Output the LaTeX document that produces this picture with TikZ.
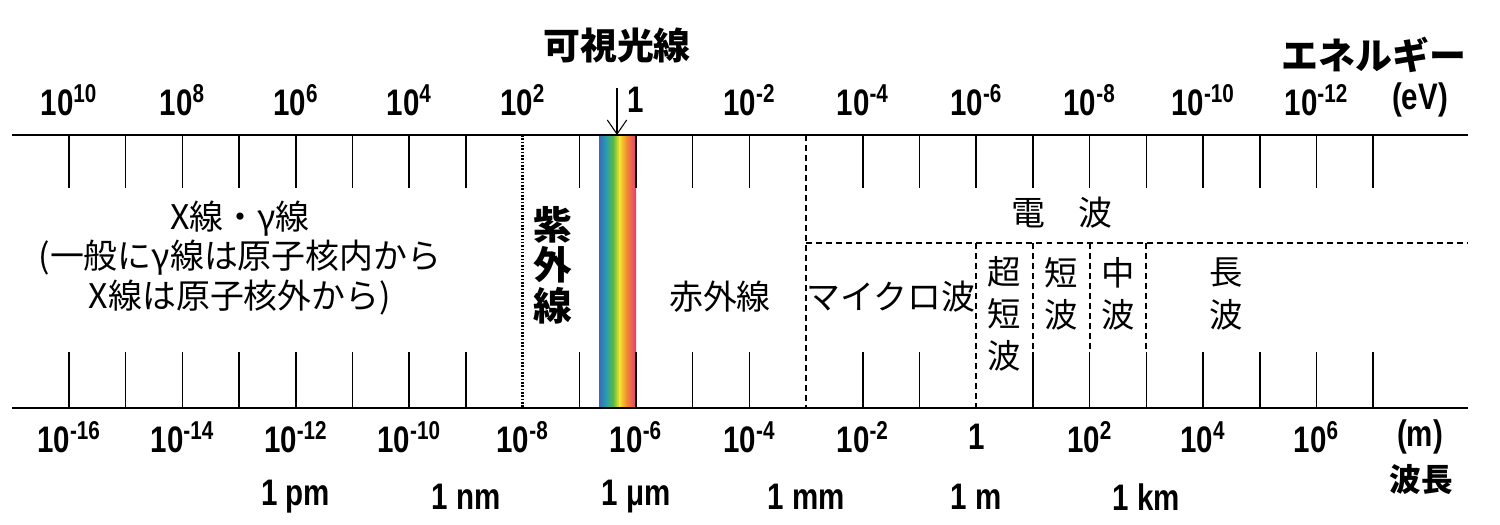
\documentclass[tikz,border=0pt]{standalone}
\usepackage{fontspec}
\setmainfont{Liberation Sans}[FakeStretch=0.8]
\newfontfamily\jp{Noto Sans CJK JP}
\usetikzlibrary{arrows.meta, positioning}

\begin{document}
\begin{tikzpicture}[x=0.2mm, y=-0.2mm,
    every node/.style={inner sep=0pt, outer sep=0pt},
    num/.style={font=\fontsize{21}{23}\selectfont\bfseries},
    band/.style={font=\fontsize{19.3}{22.5}\selectfont\jp, align=center},
    bandv/.style={font=\fontsize{19}{24}\selectfont\jp, align=center},
    title/.style={font=\fontsize{21}{24}\selectfont\jp\bfseries},
    axis/.style={line width=1.4pt},
    tick/.style={line width=0.9pt},
    sep/.style={line width=1.1pt, dash pattern=on 3.4pt off 2.3pt},
    pointer/.style={-{Straight Barb[length=8pt, width=11pt]}, line width=0.6pt}
]

    \useasboundingbox (0,0) rectangle (1500,524);
    \def\colw{56.7}
    \def\xo{69}

    % --- visible spectrum ---
    \shade[left color={rgb,255:red,58;green,104;blue,190}, right color={rgb,255:red,40;green,160;blue,170}] (599,135) rectangle (606.4,408);
    \shade[left color={rgb,255:red,40;green,160;blue,170}, right color={rgb,255:red,90;green,185;blue,70}] (606.4,135) rectangle (613,408);
    \shade[left color={rgb,255:red,90;green,185;blue,70}, right color={rgb,255:red,245;green,228;blue,45}] (613,135) rectangle (619.4,408);
    \shade[left color={rgb,255:red,245;green,228;blue,45}, right color={rgb,255:red,240;green,135;blue,50}] (619.4,135) rectangle (626.8,408);
    \shade[left color={rgb,255:red,240;green,135;blue,50}, right color={rgb,255:red,232;green,58;blue,122}] (626.8,135) rectangle (636,408);

    % --- axes ---
    \draw[axis] (12,135) -- (1468,135);
    \draw[axis] (12,408) -- (1468,408);

    % --- ticks ---
    \foreach \i in {0,...,23} {
        \ifnum\i=8 \else \ifnum\i=13 \else
            \draw[tick] (\xo+\i*\colw,135) -- (\xo+\i*\colw,188);
        \fi\fi
        \ifnum\i<8 \draw[tick] (\xo+\i*\colw,352) -- (\xo+\i*\colw,408); \fi
        \ifnum\i>8 \ifnum\i<13 \draw[tick] (\xo+\i*\colw,352) -- (\xo+\i*\colw,408); \fi\fi
        \ifnum\i>13 \ifnum\i<16 \draw[tick] (\xo+\i*\colw,352) -- (\xo+\i*\colw,408); \fi\fi
        \ifnum\i>16 \draw[tick] (\xo+\i*\colw,352) -- (\xo+\i*\colw,408); \fi
    }

    % --- band borders ---
    \draw[line width=1.3pt, dash pattern=on 0.9pt off 1pt] (\xo+8*\colw,135) -- (\xo+8*\colw,408);
    \draw[sep] (\xo+13*\colw,135) -- (\xo+13*\colw,408);
    \draw[sep] (\xo+13*\colw,243) -- (1468,243);
    \draw[sep] (\xo+16*\colw,243) -- (\xo+16*\colw,408);
    \foreach \i in {17,18,19}
        \draw[sep] (\xo+\i*\colw,243) -- (\xo+\i*\colw,352);

    % --- energy scale ---
    \foreach \i/\txt in {0/10\textsuperscript{10}, 2/10\textsuperscript{8}, 4/10\textsuperscript{6},
        6/10\textsuperscript{4}, 8/10\textsuperscript{2}, 10/1, 12/10\textsuperscript{-2},
        14/10\textsuperscript{-4}, 16/10\textsuperscript{-6}, 18/10\textsuperscript{-8},
        20/10\textsuperscript{-10}, 22/10\textsuperscript{-12}}
        \node[num] (e\i) at (\xo+\i*\colw,100) {\txt};
    \node[num] (ev) at (1420,100) {(eV)};
    \node[title, anchor=east] (energy) at (1466,55) {エネルギー};

    % --- wavelength scale ---
    \foreach \i/\txt in {0/10\textsuperscript{-16}, 2/10\textsuperscript{-14}, 4/10\textsuperscript{-12},
        6/10\textsuperscript{-10}, 8/10\textsuperscript{-8}, 10/10\textsuperscript{-6},
        12/10\textsuperscript{-4}, 14/10\textsuperscript{-2}, 16/1, 18/10\textsuperscript{2},
        20/10\textsuperscript{4}, 22/10\textsuperscript{6}}
        \node[num] (w\i) at (\xo+\i*\colw,437) {\txt};
    \node[num] (m) at (1420,437) {(m)};
    \node[font=\fontsize{18}{20}\selectfont\jp\bfseries] (wl) at (1421,479) {波長};

    \foreach \i/\txt in {4/1 pm, 7/1 nm, 10/1 μm, 13/1 mm, 16/1 m, 19/1 km}
        \node[num] (si\i) at (\xo+\i*\colw,497) {\txt};

    % --- visible light ---
    \node[title] (vis) at (617,45) {可視光線};
    \coordinate (arrtop) at (617,88);
    \coordinate (arrtip) at (617,135);
    \draw[pointer] (arrtop) -- (arrtip);

    % --- bands ---
    \node[band] (xray) at (240,258) {X線・γ線\\(一般にγ線は原子核内から\\X線は原子核外から)};
    \node[font=\fontsize{22}{23}\selectfont\jp\bfseries, align=center] (uv) at (553,265) {紫\\外\\線};
    \node[band] (ir) at (720,297) {赤外線};
    \node[band] (radio) at (1062,213) {電\hspace{1em}波};
    \node[band] (micro) at (891,297) {マイクロ波};
    \node[bandv] (vhf) at (1004,314) {超\\短\\波};
    \node[bandv] (sw) at (1061,294) {短\\波};
    \node[bandv] (mw) at (1118,294) {中\\波};
    \node[bandv] (lw) at (1226,294) {長\\波};

\end{tikzpicture}
\end{document}
